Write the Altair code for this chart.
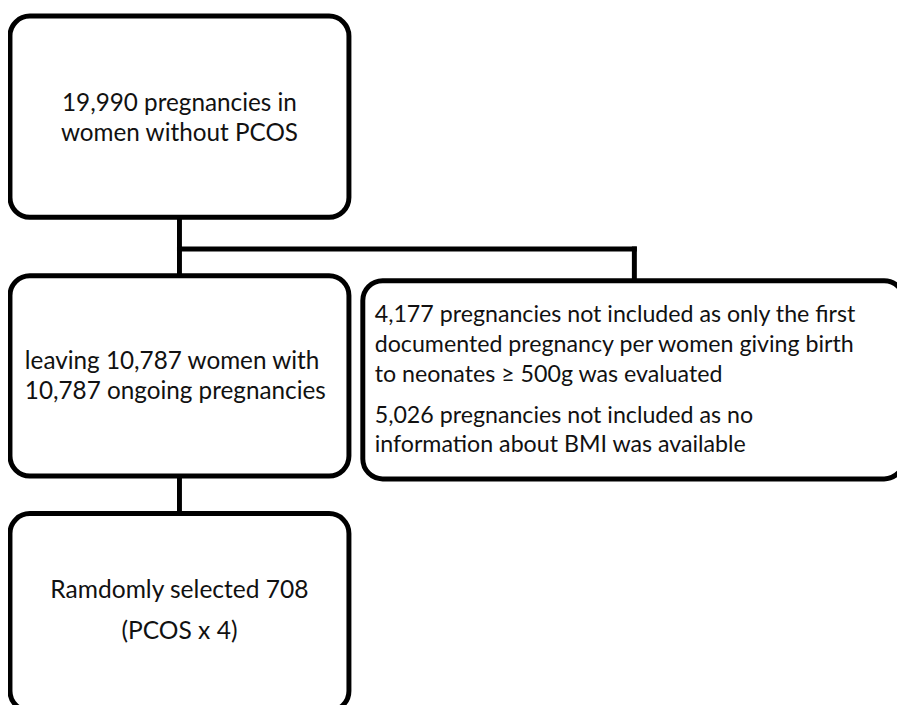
import altair as alt
import pandas as pd

# Flowchart boxes (screen-pixel layout units)
box_id = ["start", "left", "excluded", "selected"]
box_x0 = [10, 10, 366, 10]
box_x1 = [352, 352, 912, 352]
box_y0 = [13, 275, 280, 515]
box_y1 = [216, 477, 480, 714]

# Connectors
link_x = [181, 181, 640, 181, 181]
link_x2 = [181, 640, 640, 181, 181]
link_y = [216, 248, 248, 248, 477]
link_y2 = [248, 248, 280, 275, 515]

# Text lines
text_lines = [
    "19,990 pregnancies in",
    "women without PCOS",
    "leaving 10,787 women with",
    "10,787 ongoing pregnancies",
    "4,177 pregnancies not included as only the first",
    "documented pregnancy per women giving birth",
    "to neonates \u2265 500g was evaluated",
    "5,026 pregnancies not included as no",
    "information about BMI was available",
    "Ramdomly selected 708",
    "(PCOS x 4)",
]
text_x = [181, 181, 25, 25, 378, 378, 378, 378, 378, 181, 181]
text_y = [102, 132, 362, 392, 315, 345, 375, 417, 446, 593, 635]
text_align = ["center", "center", "left", "left", "left", "left", "left",
              "left", "left", "center", "center"]
text_size = [24.5, 24.5, 24.5, 24.5, 23.4, 23.4, 23.4, 23.4, 23.4, 24.8, 24.8]

boxes = pd.DataFrame({"id": box_id, "x0": box_x0, "x1": box_x1,
                      "y0": box_y0, "y1": box_y1})
links = pd.DataFrame({"x": link_x, "x2": link_x2, "y": link_y, "y2": link_y2})
texts = pd.DataFrame({"t": text_lines, "x": text_x, "y": text_y,
                      "align": text_align, "fs": text_size})

W, H = 897, 700
xs = alt.Scale(domain=[8, 8 + W], nice=False, zero=False)
ys = alt.Scale(domain=[8, 8 + H], nice=False, zero=False, reverse=True)
noax = None

link_layer = alt.Chart(links).mark_rule(color="black", strokeWidth=5,
                                         strokeCap="square", clip=True).encode(
    x=alt.X("x:Q", scale=xs, axis=noax),
    x2="x2:Q",
    y=alt.Y("y:Q", scale=ys, axis=noax),
    y2="y2:Q",
)

box_layer = alt.Chart(boxes).mark_rect(fill="white", stroke="black",
                                        strokeWidth=5, cornerRadius=20,
                                        clip=True).encode(
    x=alt.X("x0:Q", scale=xs, axis=noax),
    x2="x1:Q",
    y=alt.Y("y0:Q", scale=ys, axis=noax),
    y2="y1:Q",
)

def text_layer(align):
    return alt.Chart(texts[texts["align"] == align]).mark_text(
        align=align, baseline="middle", font="Lato",
        color="#111111").encode(
        x=alt.X("x:Q", scale=xs, axis=noax),
        y=alt.Y("y:Q", scale=ys, axis=noax),
        size=alt.Size("fs:Q", scale=None, legend=None),
        text="t:N",
    )

chart = alt.layer(link_layer, box_layer, text_layer("center"),
                  text_layer("left")).properties(
    width=W, height=H, padding=0, autosize=alt.AutoSizeParams(type="none"),
    background="white"
).configure_view(stroke=None)

chart.save("out.html", embed_options={"renderer": "svg", "actions": False})
